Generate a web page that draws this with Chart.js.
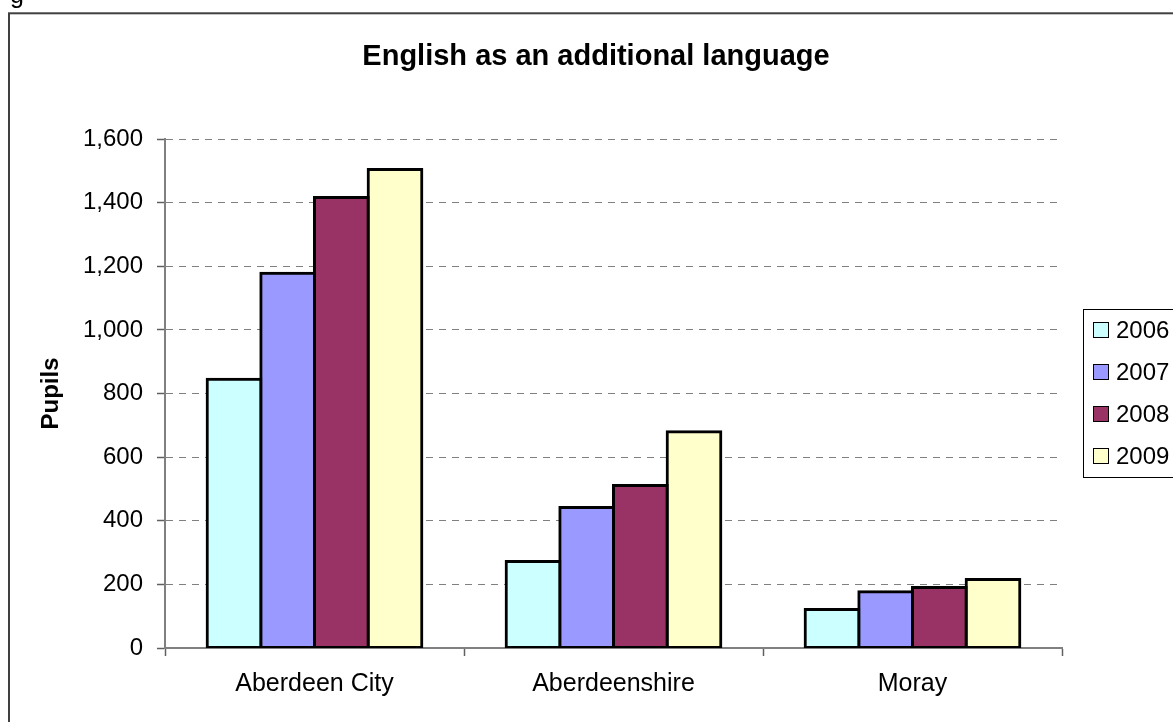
<!DOCTYPE html>
<html>
<head>
<meta charset="utf-8">
<script src="https://cdn.jsdelivr.net/npm/chart.js@4.4.1/dist/chart.umd.min.js"></script>
<style>
  html, body { margin: 0; padding: 0; background: #fff; overflow: hidden; }
  #wrap { position: relative; width: 1173px; height: 722px; }
  #cut { position: absolute; left: 10px; top: -18px; font: 25px "Liberation Sans", Arial, sans-serif; line-height: 25px; color: #000; }
</style>
</head>
<body>
<div id="wrap">
  <canvas id="eal" width="1173" height="722"></canvas>
  <div id="cut">g</div>
</div>
<script>
// data
const chartTitle = 'English as an additional language';
const axisTitle = 'Pupils';
const areas = ['Aberdeen City', 'Aberdeenshire', 'Moray'];
const years = ['2006', '2007', '2008', '2009'];
const pupils2006 = [845, 272, 121];
const pupils2007 = [1178, 442, 177];
const pupils2008 = [1416, 511, 190];
const pupils2009 = [1504, 680, 215];
const yMax = 1600;
const yStep = 200;

const fills = ['#CCFFFF', '#9999FF', '#993366', '#FFFFCC'];
const font = '"Liberation Sans", Arial, sans-serif';

// frame, title and boxed legend like the old spreadsheet chart
const extras = {
  id: 'extras',
  beforeDraw(chart) {
    const ctx = chart.ctx;
    ctx.save();
    ctx.fillStyle = '#fff';
    ctx.fillRect(0, 0, chart.width, chart.height);
    ctx.strokeStyle = '#404040';
    ctx.lineWidth = 2;
    ctx.strokeRect(9, 13.3, 1300, 900);
    ctx.restore();
  },
  afterDraw(chart) {
    const ctx = chart.ctx;
    ctx.save();
    // title
    ctx.fillStyle = '#000';
    ctx.font = 'bold 29px ' + font;
    ctx.textAlign = 'center';
    ctx.textBaseline = 'alphabetic';
    ctx.fillText(chartTitle, 596, 65);

    // legend
    ctx.strokeStyle = '#000';
    ctx.lineWidth = 1;
    ctx.strokeRect(1083.5, 309.5, 200, 168);
    ctx.font = '24px ' + font;
    ctx.textAlign = 'left';
    ctx.textBaseline = 'middle';
    chart.data.datasets.forEach((ds, i) => {
      const y = 330 + i * 42;
      ctx.fillStyle = ds.backgroundColor;
      ctx.fillRect(1093.5, y - 7.5, 15, 15);
      ctx.strokeRect(1093.5, y - 7.5, 15, 15);
      ctx.fillStyle = '#000';
      ctx.fillText(ds.label, 1116, y + 1);
    });
    ctx.restore();
  }
};

const ctx = document.getElementById('eal').getContext('2d');
const allPupils = [pupils2006, pupils2007, pupils2008, pupils2009];

new Chart(ctx, {
  type: 'bar',
  data: {
    labels: areas,
    datasets: years.map((y, i) => ({
      label: y,
      data: allPupils[i],
      backgroundColor: fills[i],
      borderColor: '#000',
      borderWidth: 3,
      borderSkipped: false,
      inflateAmount: 1.5,
      categoryPercentage: 0.718,
      barPercentage: 1
    }))
  },
  options: {
    responsive: false,
    animation: false,
    layout: { padding: { left: 0, top: 139, right: 111, bottom: 14 } },
    plugins: {
      legend: { display: false },
      title: { display: false },
      tooltip: { enabled: false }
    },
    scales: {
      x: {
        afterFit: s => { s.height = 60; },
        grid: {
          display: true,
          drawOnChartArea: false,
          offset: true,
          tickLength: 8,
          tickColor: '#606060',
          tickWidth: 1.5
        },
        border: { display: true, color: '#808080', width: 2 },
        ticks: {
          color: '#000',
          font: { family: font, size: 25 },
          padding: 13,
          maxRotation: 0
        }
      },
      y: {
        min: 0,
        max: yMax,
        afterFit: s => { s.width = 165; },
        ticks: {
          stepSize: yStep,
          color: '#000',
          font: { family: font, size: 24 },
          padding: 14
        },
        grid: {
          color: c => (c.tick && c.tick.value === 0) ? 'rgba(0,0,0,0)' : '#808080',
          lineWidth: 1,
          tickLength: 8,
          tickColor: '#606060',
          tickWidth: 1.5,
          tickBorderDash: []
        },
        border: { display: true, color: '#808080', width: 2, dash: [7, 6] },
        title: {
          display: true,
          text: axisTitle,
          color: '#000',
          font: { family: font, size: 24, weight: 'bold' },
          padding: { top: 37, bottom: 0 }
        }
      }
    }
  },
  plugins: [extras]
});
</script>
</body>
</html>
